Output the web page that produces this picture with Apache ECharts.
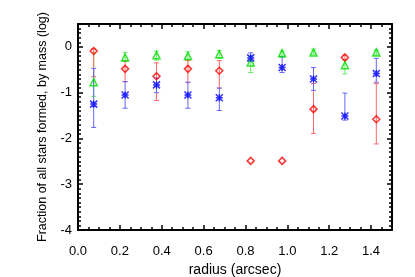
<!DOCTYPE html>
<html>
<head>
<meta charset="utf-8">
<script src="https://cdn.jsdelivr.net/npm/echarts@6/dist/echarts.min.js"></script>
<style>html,body{margin:0;padding:0;background:#fff}#c{width:415px;height:277px}</style>
</head>
<body>
<div id="c"></div>
<script>
var radius = [0.075, 0.225, 0.375, 0.525, 0.675, 0.825, 0.975, 1.125, 1.275, 1.425];
var redVal = [-0.09, -0.48, -0.64, -0.48, -0.52, -2.49, -2.49, -1.36, -0.23, -1.58];
var redLo  = [-0.65, -0.76, -1.17, -0.78, -0.90, null, null, -1.89, -0.28, -2.12];
var redHi  = [-0.05, -0.30, -0.35, -0.30, -0.30, null, null, -0.80, -0.18, -0.80];
var greenVal = [-0.77, -0.23, -0.18, -0.20, -0.16, -0.34, -0.14, -0.12, -0.40, -0.12];
var greenLo  = [-1.08, -0.32, -0.29, -0.30, -0.25, -0.56, -0.20, -0.16, -0.59, -0.18];
var greenHi  = [-0.12, -0.12, -0.09, -0.11, -0.08, -0.20, -0.09, -0.05, -0.30, -0.07];
var blueVal = [-1.25, -1.05, -0.83, -1.05, -1.11, -0.24, -0.45, -0.70, -1.51, -0.58];
var blueLo  = [-1.76, -1.34, -1.00, -1.34, -1.39, -0.32, -0.56, -0.95, -1.60, -0.77];
var blueHi  = [-0.47, -0.76, -0.68, -0.77, -0.90, -0.13, -0.22, -0.45, -1.01, -0.25];
var xTicks = [0.0, 0.2, 0.4, 0.6, 0.8, 1.0, 1.2, 1.4];
var yTicks = [-4, -3, -2, -1, 0];

function pts(v) { return radius.map(function (r, i) { return [r, v[i]]; }); }
function errs(lo, hi) {
  var out = [];
  radius.forEach(function (r, i) { if (lo[i] !== null) out.push([r, lo[i], hi[i]]); });
  return out;
}
function errSeries(lo, hi, color) {
  return {
    type: 'custom', silent: true, z: 2,
    data: errs(lo, hi),
    encode: { x: 0, y: [1, 2] },
    renderItem: function (params, api) {
      var x = api.value(0);
      var a = api.coord([x, api.value(1)]);
      var b = api.coord([x, api.value(2)]);
      var w = 2.5;
      var st = { stroke: color, lineWidth: 1 };
      return {
        type: 'group',
        children: [
          { type: 'line', shape: { x1: a[0], y1: a[1], x2: b[0], y2: b[1] }, style: st },
          { type: 'line', shape: { x1: a[0] - w, y1: a[1], x2: a[0] + w, y2: a[1] }, style: st },
          { type: 'line', shape: { x1: b[0] - w, y1: b[1], x2: b[0] + w, y2: b[1] }, style: st }
        ]
      };
    }
  };
}
var axisFont = { fontFamily: 'Liberation Sans', fontSize: 13, color: '#000' };
function xAx(pos, show) {
  return {
    type: 'value', position: pos, min: 0, max: 1.5, interval: 0.2,
    axisLine: { show: true, onZero: false, lineStyle: { color: '#000', width: 2 } },
    axisTick: { show: true, inside: true, length: 5, lineStyle: { color: '#000', width: 1.5 } },
    minorTick: { show: true, splitNumber: 4, length: 3, lineStyle: { color: '#000', width: 1.5 } },
    splitLine: { show: false },
    axisLabel: Object.assign({ show: show, margin: 15, showMaxLabel: false,
      formatter: function (v) {
        for (var i = 0; i < xTicks.length; i++) if (Math.abs(xTicks[i] - v) < 1e-6) return xTicks[i].toFixed(1);
        return '';
      } }, axisFont),
    name: show ? 'radius (arcsec)' : '', nameLocation: 'middle', nameGap: 33,
    nameTextStyle: { fontFamily: 'Liberation Sans', fontSize: 14, color: '#000' }
  };
}
function yAx(pos, show) {
  return {
    type: 'value', position: pos, min: -4, max: 0.5, interval: 1,
    axisLine: { show: true, onZero: false, lineStyle: { color: '#000', width: 2 } },
    axisTick: { show: true, inside: true, length: 5, lineStyle: { color: '#000', width: 1.5 } },
    minorTick: { show: true, splitNumber: 10, length: 3, lineStyle: { color: '#000', width: 1.5 } },
    splitLine: { show: false },
    axisLabel: Object.assign({ show: show, margin: 6, showMaxLabel: false,
      formatter: function (v) {
        for (var i = 0; i < yTicks.length; i++) if (Math.abs(yTicks[i] - v) < 1e-6) return String(yTicks[i]);
        return '';
      } }, axisFont),
    name: show ? 'Fraction of all stars formed, by mass (log)' : '', nameLocation: 'middle', nameGap: 28,
    nameTextStyle: { fontFamily: 'Liberation Sans', fontSize: 12.5, color: '#000' }
  };
}
var chart = echarts.init(document.getElementById('c'), null, { renderer: 'canvas' });
chart.setOption({
  animation: false,
  backgroundColor: '#fff',
  grid: { left: 78, right: 23, top: 24, bottom: 47, containLabel: false, outerBoundsMode: 'none' },
  xAxis: [xAx('bottom', true), xAx('top', false)],
  yAxis: [yAx('left', true), yAx('right', false)],
  series: [
    errSeries(greenLo, greenHi, '#66ee66'),
    errSeries(redLo, redHi, '#ff6666'),
    errSeries(blueLo, blueHi, '#6666ff'),
    { type: 'scatter', data: pts(greenVal), symbol: 'triangle', symbolSize: 7, z: 3,
      itemStyle: { color: 'rgba(0,0,0,0)', borderColor: '#00dd00', borderWidth: 1.5 } },
    { type: 'scatter', data: pts(redVal), symbol: 'diamond', symbolSize: 7, z: 3,
      itemStyle: { color: 'rgba(0,0,0,0)', borderColor: '#ff0000', borderWidth: 1.5 } },
    { type: 'scatter', data: pts(blueVal), symbol: 'path://M0,0L10,10M10,0L0,10M5,0L5,10M0,5L10,5', symbolSize: 7, z: 3,
      itemStyle: { color: 'rgba(0,0,0,0)', borderColor: '#0000ff', borderWidth: 1.5 } }
  ]
});
</script>
</body>
</html>
